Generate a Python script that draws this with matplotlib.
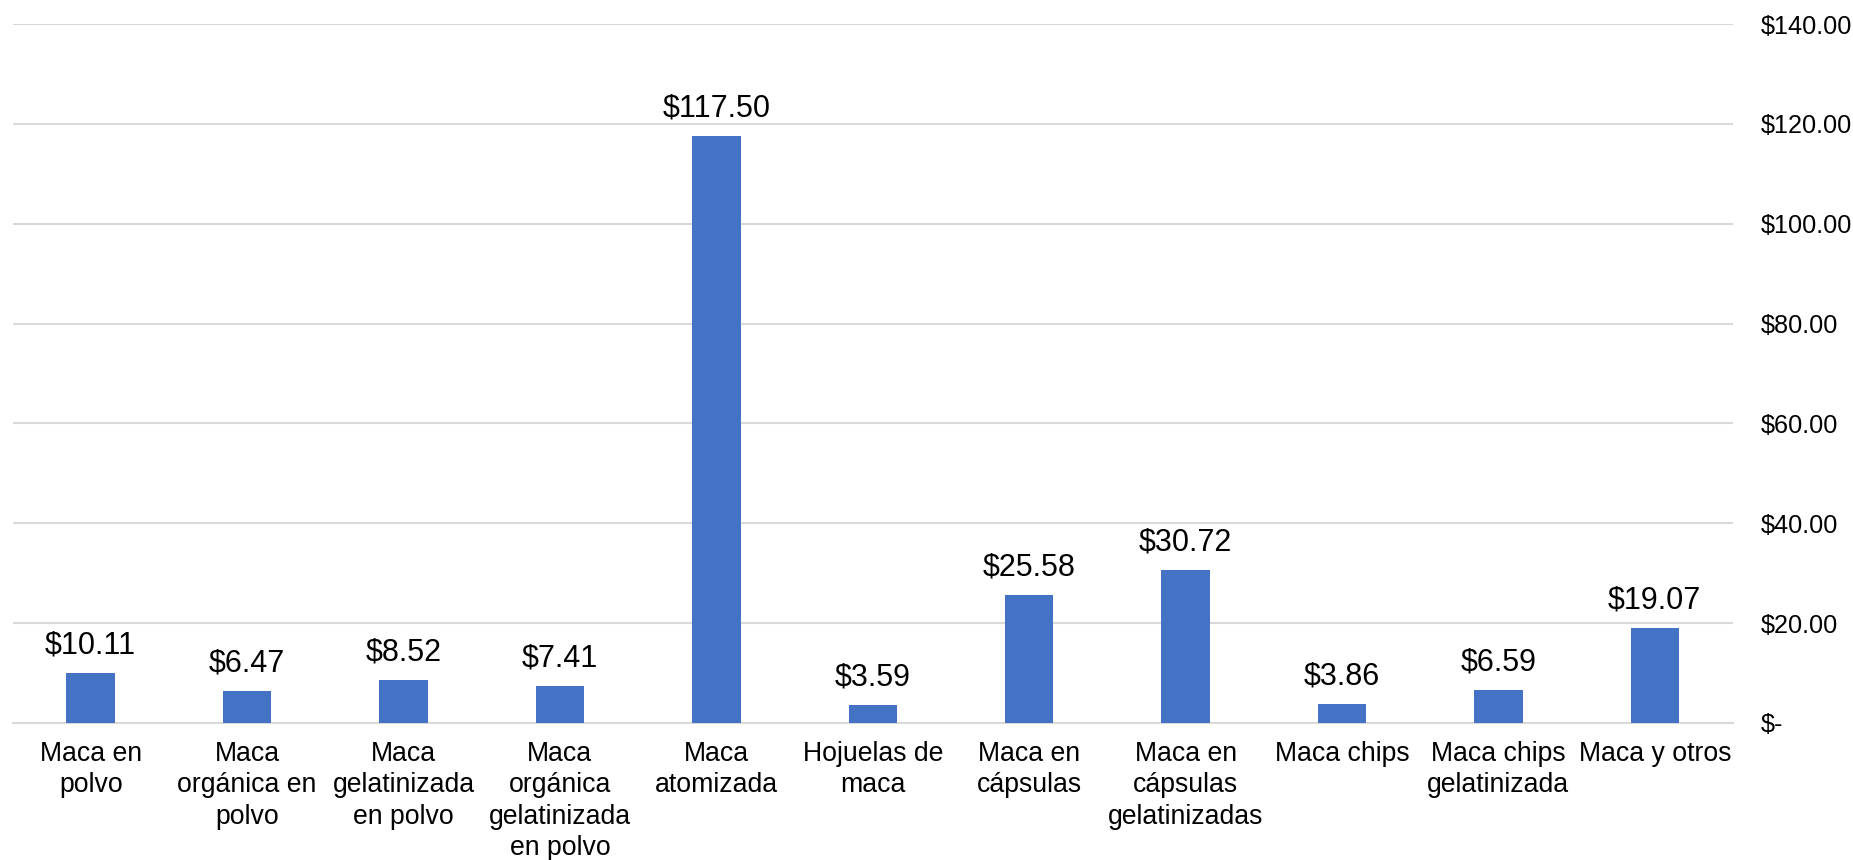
import matplotlib.pyplot as plt
import matplotlib.ticker as mticker

# Precio promedio por producto de maca
categorias = ["Maca en\npolvo", "Maca\norgánica en\npolvo", "Maca\ngelatinizada\nen polvo",
              "Maca\norgánica\ngelatinizada\nen polvo", "Maca\natomizada", "Hojuelas de\nmaca",
              "Maca en\ncápsulas", "Maca en\ncápsulas\ngelatinizadas", "Maca chips",
              "Maca chips\ngelatinizada", "Maca y otros"]
precios = [10.11, 6.47, 8.52, 7.41, 117.50, 3.59, 25.58, 30.72, 3.86, 6.59, 19.07]
y_ticks = [0, 20, 40, 60, 80, 100, 120, 140]

plt.rcParams['font.family'] = ['Liberation Sans', 'DejaVu Sans']

fig = plt.figure(figsize=(18.53, 8.60), dpi=100)
ax = fig.add_axes([12.5 / 1853, 137 / 860, (1733 - 12.5) / 1853, (723 - 24) / 860])

x = range(len(categorias))
bars = ax.bar(x, precios, width=0.31, color="#4472C4", zorder=3)

for b, v in zip(bars, precios):
    ax.annotate(f"${v:.2f}", (b.get_x() + b.get_width() / 2, v), xytext=(0, 9),
                textcoords="offset points", ha="center", va="bottom", fontsize=22)

ax.set_xlim(-0.5, len(categorias) - 0.5)
ax.set_ylim(0, 140)
ax.set_yticks(y_ticks)
ax.yaxis.set_major_formatter(mticker.FuncFormatter(lambda v, p: "$-" if v == 0 else f"${v:,.2f}"))
ax.yaxis.tick_right()
ax.tick_params(axis="y", length=0, pad=20, labelsize=18.2)
ax.set_xticks(list(x))
ax.set_xticklabels(categorias, fontsize=19.2, linespacing=1.27)
ax.tick_params(axis="x", length=0, pad=13)

ax.grid(axis="y", color="#D9D9D9", linewidth=1.5, zorder=0)
for s in ["top", "left", "right"]:
    ax.spines[s].set_visible(False)
ax.spines["bottom"].set_color("#D9D9D9")
ax.spines["bottom"].set_linewidth(1.5)

fig.savefig("out.png", dpi=100)
